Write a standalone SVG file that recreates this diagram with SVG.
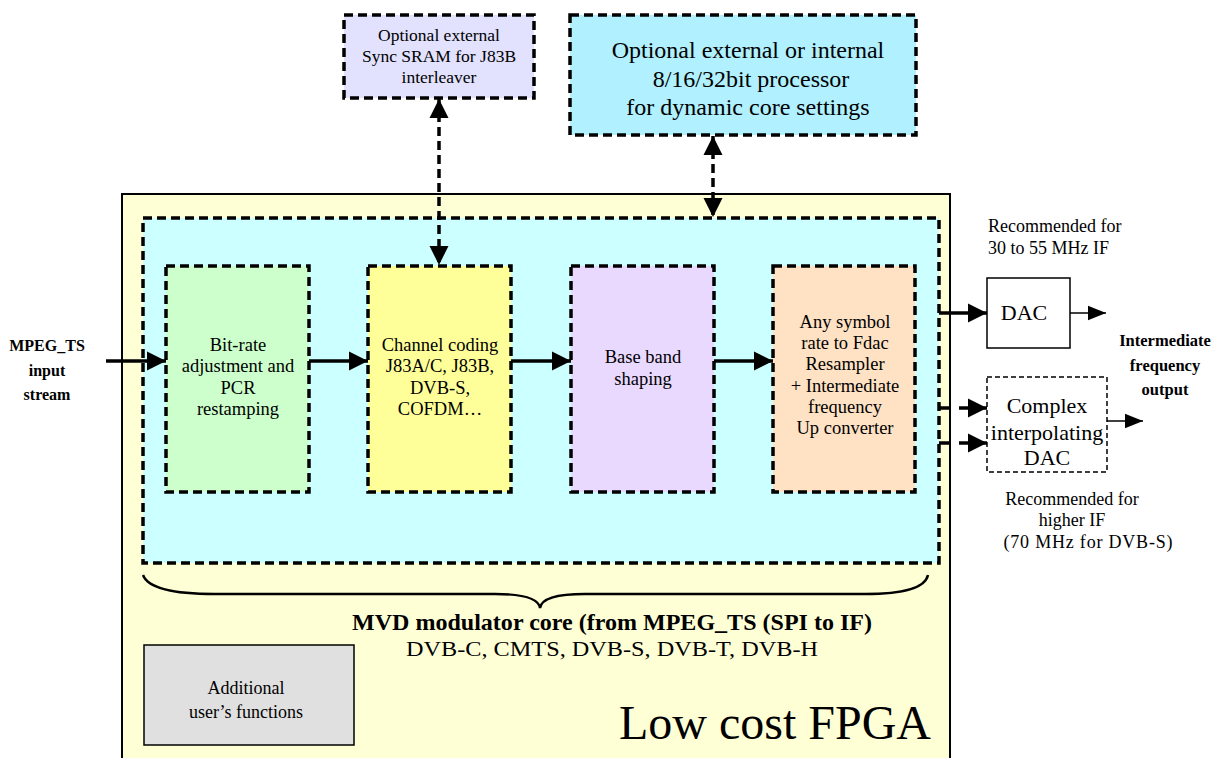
<svg xmlns="http://www.w3.org/2000/svg" width="1225" height="758" viewBox="0 0 1225 758" font-family="'Liberation Serif', 'DejaVu Serif', serif">
<style>
text{font-family:'Liberation Serif','DejaVu Serif',serif;fill:#000;text-anchor:middle}
.dash{stroke:#000;stroke-width:3.5;stroke-dasharray:9,5}
.b18{font-size:18.5px}
.r18{font-size:18px}
.bold{font-weight:bold}
.conn{stroke:#000;stroke-width:3.5;fill:none}
.thin{stroke:#000;stroke-width:1.5;fill:none}
</style>
<defs>
<marker id="ah" viewBox="0 0 10 10" refX="10" refY="5" markerWidth="5.5" markerHeight="5.5" markerUnits="strokeWidth" orient="auto-start-reverse"><path d="M0,0 L10,5 L0,10 z" fill="#000"/></marker>
<marker id="ahs" viewBox="0 0 10 10" refX="10" refY="5" markerWidth="12" markerHeight="12" markerUnits="strokeWidth" orient="auto"><path d="M0,1 L10,5 L0,9 z" fill="#000"/></marker>
</defs>
<rect width="1225" height="758" fill="#fff"/>

<g id="fpga">
<rect x="122" y="194" width="828" height="580" fill="#ffffd6" stroke="#000" stroke-width="2"/>
<text x="775" y="739" style="font-size:48px">Low cost FPGA</text>
</g>

<g id="core">
<rect x="143" y="218" width="796" height="345" fill="#ccffff" class="dash"/>
</g>

<g id="sram">
<rect x="344" y="15" width="190" height="83" fill="#e2e2ff" class="dash" stroke-width="2.5"/>
<text x="439" y="41" style="font-size:17.5px">Optional external</text>
<text x="439" y="62" style="font-size:17.5px">Sync SRAM for J83B</text>
<text x="439" y="83" style="font-size:17.5px">interleaver</text>
</g>

<g id="processor">
<rect x="570" y="15" width="346" height="120" fill="#b0f0ff" class="dash"/>
<text x="748" y="58" style="font-size:24px">Optional external or internal</text>
<text x="751" y="87" style="font-size:24px">8/16/32bit processor</text>
<text x="748" y="115" style="font-size:24px">for dynamic core settings</text>
</g>

<g id="bitrate">
<rect x="166" y="266" width="143" height="226" fill="#ccffcc" class="dash"/>
<text x="238" y="351" class="b18">Bit-rate</text>
<text x="238" y="372" class="b18">adjustment and</text>
<text x="238" y="394" class="b18">PCR</text>
<text x="238" y="415" class="b18">restamping</text>
</g>

<g id="channel">
<rect x="368" y="266" width="143" height="226" fill="#ffff99" class="dash"/>
<text x="440" y="351" class="b18">Channel coding</text>
<text x="440" y="372" class="b18">J83A/C, J83B,</text>
<text x="440" y="394" class="b18">DVB-S,</text>
<text x="440" y="415" class="b18">COFDM…</text>
</g>

<g id="baseband">
<rect x="571" y="266" width="143" height="226" fill="#ead9ff" class="dash"/>
<text x="643" y="363" class="b18">Base band</text>
<text x="643" y="385" class="b18">shaping</text>
</g>

<g id="resampler">
<rect x="773" y="266" width="142" height="226" fill="#ffe2c4" class="dash"/>
<text x="845" y="328" class="b18">Any symbol</text>
<text x="845" y="349" class="b18">rate to Fdac</text>
<text x="845" y="370" class="b18">Resampler</text>
<text x="845" y="392" class="b18">+ Intermediate</text>
<text x="845" y="413" class="b18">frequency</text>
<text x="845" y="434" class="b18">Up converter</text>
</g>

<g id="dac">
<rect x="987" y="278" width="83" height="70" fill="#fff" stroke="#000" stroke-width="1.5"/>
<text x="1024" y="320" style="font-size:22px">DAC</text>
</g>

<g id="complexdac">
<rect x="987" y="377" width="120" height="95" fill="#fff" stroke="#000" stroke-width="1.5" stroke-dasharray="5,3"/>
<text x="1047" y="413" style="font-size:22px">Complex</text>
<text x="1047" y="440" style="font-size:22px">interpolating</text>
<text x="1047" y="465" style="font-size:22px">DAC</text>
</g>

<g id="userfunc">
<rect x="144" y="645" width="210" height="100" fill="#e0e0e0" stroke="#000" stroke-width="1.5"/>
<text x="246" y="694" class="r18">Additional</text>
<text x="246" y="718" class="r18">user’s functions</text>
</g>

<g id="labels">
<text x="47" y="351" class="bold" style="font-size:16px">MPEG_TS</text>
<text x="47" y="376" class="bold" style="font-size:16px">input</text>
<text x="47" y="400" class="bold" style="font-size:16px">stream</text>
<text x="988" y="232" class="r18" style="text-anchor:start">Recommended for</text>
<text x="988" y="254" class="r18" style="text-anchor:start">30 to 55 MHz IF</text>
<text x="1165" y="346" class="bold" style="font-size:16.5px">Intermediate</text>
<text x="1165" y="371" class="bold" style="font-size:16.5px">frequency</text>
<text x="1165" y="395" class="bold" style="font-size:16.5px">output</text>
<text x="1072" y="505" class="r18">Recommended for</text>
<text x="1072" y="526" class="r18">higher IF</text>
<text x="1088" y="548" class="r18" textLength="169" lengthAdjust="spacing">(70 MHz  for DVB-S)</text>
<text x="612" y="630" class="bold" style="font-size:24px" textLength="520" lengthAdjust="spacingAndGlyphs">MVD modulator core (from MPEG_TS (SPI to IF)</text>
<text x="612" y="656" style="font-size:22px" textLength="412" lengthAdjust="spacingAndGlyphs">DVB-C, CMTS, DVB-S, DVB-T, DVB-H</text>
</g>

<g id="connectors">
<line x1="106" y1="361" x2="166" y2="361" class="conn" marker-end="url(#ah)"/>
<line x1="309" y1="361" x2="368" y2="361" class="conn" marker-end="url(#ah)"/>
<line x1="511" y1="361" x2="571" y2="361" class="conn" marker-end="url(#ah)"/>
<line x1="714" y1="361" x2="773" y2="361" class="conn" marker-end="url(#ah)"/>
<line x1="439" y1="99" x2="439" y2="265" class="conn" stroke-dasharray="9,5" marker-start="url(#ah)" marker-end="url(#ah)"/>
<line x1="713" y1="136" x2="713" y2="217" class="conn" stroke-dasharray="9,5" marker-start="url(#ah)" marker-end="url(#ah)"/>
<line x1="939" y1="313" x2="987" y2="313" class="conn" marker-end="url(#ah)"/>
<line x1="939" y1="408" x2="950" y2="408" class="conn"/>
<line x1="939" y1="443" x2="950" y2="443" class="conn"/>
<line x1="959" y1="408" x2="987" y2="408" class="conn" marker-end="url(#ah)"/>
<line x1="959" y1="443" x2="987" y2="443" class="conn" marker-end="url(#ah)"/>
<line x1="1070" y1="313" x2="1106" y2="313" class="thin" marker-end="url(#ahs)"/>
<line x1="1107" y1="421" x2="1143" y2="421" class="thin" marker-end="url(#ahs)"/>
<path d="M143,575 Q150,594 215,594 L495,594 Q538,594 540,608 Q542,594 585,594 L865,594 Q924,594 928,575" fill="none" stroke="#000" stroke-width="2.5"/>
</g>
</svg>
